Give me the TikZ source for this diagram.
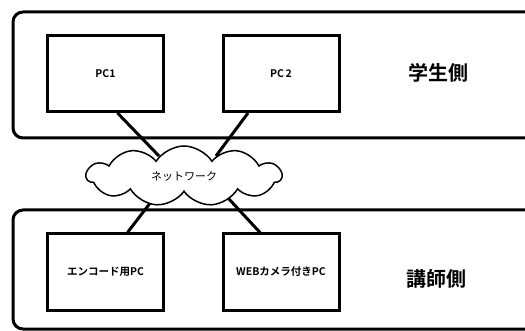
\documentclass[tikz,border=0pt]{standalone}
\usepackage{fontspec}
\setmainfont{Noto Sans CJK JP}[BoldFont={Noto Sans CJK JP Bold}]
\usetikzlibrary{shapes.symbols,calc}
\begin{document}
\begin{tikzpicture}[x=1pt,y=-1pt,
  zone/.style={draw,line width=3pt,rounded corners=10pt},
  pcbox/.style={draw,line width=3pt,minimum width=116pt,minimum height=76pt,inner sep=0pt,font=\bfseries\fontsize{10.5}{12}\selectfont},
  side/.style={font=\bfseries\fontsize{20}{23}\selectfont},
  link/.style={line width=3pt},
  net/.style={cloud,cloud puffs=11,cloud puff arc=115,aspect=3.3,draw,line width=1.5pt,fill=white,minimum width=195pt,minimum height=60pt,inner sep=0pt,font=\fontsize{11}{13}\selectfont}]
\useasboundingbox (0,0) rectangle (525,331);
\begin{scope}
\clip (0,0) rectangle (525,331);
\draw[zone] (13,12) rectangle (560,138);
\draw[zone] (13,210) rectangle (560,329);
\end{scope}
\node[pcbox] (pc1) at (105.5,73.5) {PC1};
\node[pcbox] (pc2) at (281,73.5) {PC\,2};
\node[side] (stu) at (438,73) {学生側};
\node[pcbox] (enc) at (105.5,272) {エンコード用PC};
\node[pcbox] (web) at (281,272) {WEBカメラ付きPC};
\node[side] (tea) at (436,279) {講師側};
\coordinate (c1) at (159,156);
\coordinate (c2) at (216,156);
\coordinate (c3) at (154,198);
\coordinate (c4) at (228,198);
\draw[link] ($(pc1.south)+(12,0)$) -- (c1);
\draw[link] ($(pc2.south)+(-33,0)$) -- (c2);
\draw[link] ($(enc.north)+(22,0)$) -- (c3);
\draw[link] ($(web.north)+(-21,0)$) -- (c4);
\node[net] (cloud) at (184,176) {ネットワーク};
\end{tikzpicture}
\end{document}
